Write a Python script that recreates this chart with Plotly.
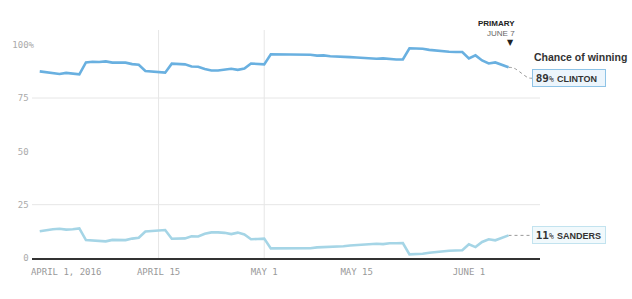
import plotly.graph_objects as go
import pandas as pd

# ---- data ----
dates = pd.date_range("2016-03-28", "2016-06-07", freq="D")
clinton = [87.5, 87.0, 86.6, 86.3, 86.8, 86.6, 86.1, 91.7, 92.0, 91.9,
           92.2, 91.6, 91.6, 91.6, 90.9, 90.6, 87.7, 87.4, 87.1, 86.9,
           91.1, 91.0, 90.8, 89.8, 89.7, 88.6, 87.9, 87.9, 88.2, 88.7,
           88.2, 88.8, 91.2, 91.1, 90.8, 95.5, 95.5, 95.4, 95.3, 95.2,
           95.3, 95.3, 94.9, 95.0, 94.6, 94.5, 94.6, 94.2, 94.0, 93.8,
           93.7, 93.4, 93.6, 93.2, 93.1, 93.1, 98.3, 98.2, 98.1, 97.6,
           97.2, 96.9, 96.7, 96.6, 96.6, 93.6, 95.0, 92.6, 91.2, 91.7,
           90.5, 89.4]
sanders = [12.5, 13.1, 13.5, 13.7, 13.3, 13.5, 13.9, 8.4, 8.1, 8.0,
           7.8, 8.5, 8.4, 8.4, 9.1, 9.5, 12.4, 12.7, 12.9, 13.1,
           9.0, 9.0, 9.2, 10.2, 10.1, 11.4, 12.0, 12.0, 11.8, 11.2,
           11.9, 11.0, 8.8, 8.9, 9.1, 4.5, 4.5, 4.6, 4.8, 4.7,
           4.7, 4.6, 5.0, 5.1, 5.5, 5.6, 5.5, 5.9, 6.1, 6.2,
           6.4, 6.7, 6.5, 6.9, 6.9, 7.0, 1.7, 1.8, 2.0, 2.5,
           2.9, 3.2, 3.4, 3.5, 3.6, 6.4, 5.1, 7.5, 8.8, 8.3,
           9.5, 10.6]
x_tickvals = ["2016-04-01", "2016-04-15", "2016-05-01", "2016-05-15", "2016-06-01"]
x_ticktext = ["APRIL 1, 2016", "APRIL 15", "MAY 1", "MAY 15", "JUNE 1"]
y_tickvals = [0, 25, 50, 75, 100]
y_ticktext = ["0\u00a0", "25\u00a0", "50\u00a0", "75\u00a0", "100%"]
primary_date = "2016-06-07"

C_CLINTON = "#69b0e0"
C_SANDERS = "#a5d5e6"
MONO = "DejaVu Sans Mono"
SANS = "Liberation Sans"

fig = go.Figure()

# connectors (dotted) from last point to labels
last = dates[-1]
fig.add_trace(go.Scatter(
    x=[last, last + pd.Timedelta(hours=20), last + pd.Timedelta(days=3), last + pd.Timedelta(days=3.6)],
    y=[clinton[-1], clinton[-1] - 0.4, 84.5, 84.3],
    mode="lines", line=dict(color="#999", width=1, dash="dot", shape="spline"),
    hoverinfo="skip", showlegend=False))
fig.add_trace(go.Scatter(
    x=[last, last + pd.Timedelta(days=3.6)], y=[sanders[-1], sanders[-1]],
    mode="lines", line=dict(color="#999", width=1, dash="dot"),
    hoverinfo="skip", showlegend=False))

fig.add_trace(go.Scatter(x=dates, y=sanders, mode="lines", name="Sanders",
                         line=dict(color=C_SANDERS, width=2.6), showlegend=False))
fig.add_trace(go.Scatter(x=dates, y=clinton, mode="lines", name="Clinton",
                         line=dict(color=C_CLINTON, width=2.6), showlegend=False))

# grid lines
for v in [25, 75]:
    fig.add_shape(type="line", xref="paper", yref="y", x0=0, x1=1, y0=v, y1=v,
                  line=dict(color="#e6e6e6", width=1), layer="below")
for d in ["2016-04-15", "2016-05-01"]:
    fig.add_shape(type="line", xref="x", yref="paper", x0=d, x1=d, y0=0, y1=1,
                  line=dict(color="#e6e6e6", width=1), layer="below")

# annotations
fig.add_annotation(xref="x", yref="paper", x=primary_date, y=1, yanchor="bottom",
                   xanchor="right", xshift=8, yshift=-9.5, align="right", showarrow=False,
                   text="<b>PRIMARY</b><br><span style='color:#666'>JUNE 7</span>",
                   font=dict(family=SANS, size=8, color="#222"))
fig.add_annotation(xref="x", yref="paper", x=primary_date, y=1, yanchor="top",
                   xanchor="center", xshift=2, yshift=-6, showarrow=False, text="▼",
                   font=dict(family="DejaVu Sans", size=8, color="#222"))
fig.add_annotation(xref="paper", yref="y", x=0.984, y=94.4, xanchor="left", yanchor="middle",
                   showarrow=False, text="<b>Chance of winning</b>",
                   font=dict(family=SANS, size=10.5, color="#333"))


def box_text(val, name):
    return (f"<span style='font-size:6px'>\u00a0</span>"
            f"<span style='font-family:{MONO};font-size:11px'><b>{round(val)}</b></span>"
            f"<span style='font-family:{MONO};font-size:8px'>%</span> "
            f"<span style='font-family:{SANS};font-size:9px'><b>{name}</b></span>")


fig.add_annotation(xref="paper", yref="y", x=0.984, y=84.3, xanchor="left", yanchor="middle",
                   showarrow=False, text=box_text(clinton[-1], "CLINTON") + "\u00a0\u00a0",
                   bgcolor="#ecf5fc", bordercolor="#8ec3e6", borderwidth=1, borderpad=1,
                   font=dict(family=SANS, size=12, color="#333"))
fig.add_annotation(xref="paper", yref="y", x=0.984, y=sanders[-1], xanchor="left", yanchor="middle",
                   showarrow=False, text=box_text(sanders[-1], "SANDERS") + "\u00a0",
                   bgcolor="#f1f9fc", bordercolor="#c2e3ef", borderwidth=1, borderpad=1,
                   font=dict(family=SANS, size=12, color="#333"))

fig.update_layout(
    width=632, height=299,
    margin=dict(l=30, r=92, t=30, b=41),
    paper_bgcolor="white", plot_bgcolor="white",
    xaxis=dict(type="date", range=["2016-03-26 19:55", "2016-06-11 18:29"],
               tickvals=x_tickvals, ticktext=x_ticktext, showgrid=False, zeroline=False,
               showline=True, linecolor="#333", linewidth=1.5, ticks="",
               tickfont=dict(family=MONO, size=9, color="#999"), ticklabelstandoff=4),
    yaxis=dict(range=[0, 106.9], tickvals=y_tickvals, ticktext=y_ticktext,
               showgrid=False, zeroline=False, ticks="", ticklabelstandoff=-3,
               tickfont=dict(family=MONO, size=9, color="#aaa")),
)

fig.write_html("out.html")
